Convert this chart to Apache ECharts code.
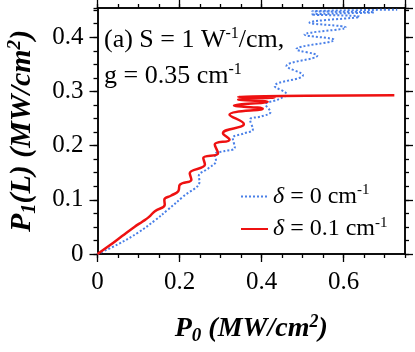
<!DOCTYPE html>
<html>
<head>
<meta charset="utf-8">
<script src="https://cdn.jsdelivr.net/npm/echarts@6/dist/echarts.min.js"></script>
<style>
  html, body { margin: 0; padding: 0; background: #fff; }
  #main { width: 415px; height: 352px; }
</style>
</head>
<body>
<div id="main"></div>
<script>
// delta = 0 cm^-1 (blue dotted)
var p0Blue = [0, 0.05, 0.10, 0.14, 0.172, 0.209, 0.249, 0.247, 0.27, 0.289, 0.286, 0.31, 0.335, 0.330, 0.355, 0.379,
  0.372, 0.40, 0.422, 0.410, 0.44, 0.461, 0.432, 0.501, 0.461, 0.536, 0.485, 0.577, 0.505, 0.606, 0.517, 0.639,
  0.522, 0.675, 0.524, 0.731];
var p1Blue = [0, 0.018, 0.040, 0.062, 0.082, 0.106, 0.134, 0.144, 0.158, 0.172, 0.184, 0.19, 0.196, 0.214, 0.222, 0.230,
  0.248, 0.254, 0.262, 0.276, 0.285, 0.295, 0.310, 0.330, 0.347, 0.366, 0.378, 0.395, 0.405, 0.418, 0.427, 0.438,
  0.442, 0.446, 0.448, 0.451];
// delta = 0.1 cm^-1 (red)
var p0Red = [0, 0.03, 0.06, 0.09, 0.11, 0.125, 0.14, 0.164, 0.163, 0.18, 0.197, 0.201, 0.229, 0.225, 0.262, 0.258,
  0.294, 0.286, 0.322, 0.306, 0.357, 0.322, 0.403, 0.333, 0.415, 0.343, 0.432, 0.343, 0.45, 0.724];
var p1Red = [0, 0.016, 0.033, 0.050, 0.060, 0.068, 0.079, 0.091, 0.100, 0.108, 0.116, 0.128, 0.137, 0.149, 0.165, 0.177,
  0.186, 0.202, 0.211, 0.223, 0.240, 0.257, 0.268, 0.274, 0.281, 0.285, 0.289, 0.290, 0.2915, 0.293];

var xMax = 0.75, yMax = 0.454;
var FONT = '"Liberation Serif", "Times New Roman", serif';

function zip(a, b) {
  var out = [];
  for (var i = 0; i < a.length; i++) out.push([a[i], b[i]]);
  return out;
}

// helper for the box axes: major ticks (with labels) and minor ticks
function axis(pos, max, interval, tickLen, labels) {
  return {
    type: 'value', position: pos, min: 0, max: max, interval: interval,
    axisLine: { show: true, onZero: false, lineStyle: { color: '#000', width: 1.5 } },
    axisTick: { show: true, inside: false, length: tickLen, lineStyle: { color: '#000', width: 1.3 } },
    axisLabel: {
      show: labels, showMaxLabel: false, margin: 12,
      fontFamily: FONT, fontSize: 25, color: '#000',
      formatter: function (v) { return v === 0 ? '0' : v.toFixed(1); }
    },
    splitLine: { show: false }
  };
}

function nameRich(size) {
  return {
    b: { fontFamily: FONT, fontSize: size, fontWeight: 'bold', fontStyle: 'italic', color: '#000' },
    sub: { fontFamily: FONT, fontSize: size * 0.68, fontWeight: 'bold', fontStyle: 'italic', color: '#000', padding: [15, 0, 0, 0] },
    sup: { fontFamily: FONT, fontSize: size * 0.64, fontWeight: 'bold', fontStyle: 'italic', color: '#000', padding: [0, 0, 14, 0] }
  };
}

var chart = echarts.init(document.getElementById('main'));

var xName = '{b|P}{sub|0}{b| (MW/cm}{sup|2}{b|)}';
var yName = '{b|P}{sub|1}{b|(L) (MW/cm}{sup|2}{b|)}';

var xMajor = axis('bottom', xMax, 0.2, 8, true);
xMajor.axisLabel.margin = 16;
xMajor.name = xName;
xMajor.nameLocation = 'middle';
xMajor.nameGap = 58;
xMajor.nameTextStyle = { rich: nameRich(28) };

var yMajor = axis('left', yMax, 0.1, 8, true);
yMajor.axisLabel.margin = 14;
yMajor.name = yName;
yMajor.nameLocation = 'middle';
yMajor.nameGap = 58;
yMajor.nameRotate = 90;
yMajor.nameTextStyle = { rich: nameRich(30) };

var option = {
  animation: false,
  backgroundColor: '#fff',
  grid: { left: 97.5, right: 10, top: 8, bottom: 98, outerBoundsMode: 'none', containLabel: false },
  xAxis: [
    xMajor,
    axis('bottom', xMax, 0.05, 4, false),
    axis('top', xMax, 0.2, 8, false),
    axis('top', xMax, 0.05, 4, false)
  ],
  yAxis: [
    yMajor,
    axis('left', yMax, 0.025, 4, false),
    axis('right', yMax, 0.1, 8, false),
    axis('right', yMax, 0.025, 4, false)
  ],
  legend: {
    orient: 'vertical',
    left: 235, top: 178,
    itemWidth: 27, itemHeight: 14, itemGap: 7,
    itemStyle: { color: 'rgba(0,0,0,0)', borderWidth: 0 },
    textStyle: {
      fontFamily: FONT, fontSize: 24, color: '#000',
      rich: {
        i: { fontFamily: FONT, fontSize: 24, fontStyle: 'italic', color: '#000' },
        t: { fontFamily: FONT, fontSize: 24, color: '#000' },
        s: { fontFamily: FONT, fontSize: 15, color: '#000', padding: [0, 0, 12, 0] }
      }
    },
    formatter: function (name) {
      return name === 'd0' ? '{i|δ}{t| = 0 cm}{s|-1}' : '{i|δ}{t| = 0.1 cm}{s|-1}';
    },
    data: ['d0', 'd1']
  },
  graphic: [
    {
      type: 'text', left: 104, top: 26,
      style: {
        text: '{t|(a) S = 1 W}{s|-1}{t|/cm,}',
        rich: {
          t: { fontFamily: FONT, fontSize: 26, fill: '#000' },
          s: { fontFamily: FONT, fontSize: 16, fill: '#000', padding: [0, 0, 13, 0] }
        }
      }
    },
    {
      type: 'text', left: 104, top: 62,
      style: {
        text: '{t|g = 0.35 cm}{s|-1}',
        rich: {
          t: { fontFamily: FONT, fontSize: 26, fill: '#000' },
          s: { fontFamily: FONT, fontSize: 16, fill: '#000', padding: [0, 0, 13, 0] }
        }
      }
    }
  ],
  series: [
    {
      name: 'd0', type: 'line', xAxisIndex: 0, yAxisIndex: 0,
      data: zip(p0Blue, p1Blue), showSymbol: false, symbol: 'none', smooth: 0.4,
      lineStyle: { type: 'dotted', width: 2, color: '#4a80e8' },
      itemStyle: { color: '#4a80e8' }
    },
    {
      name: 'd1', type: 'line', xAxisIndex: 0, yAxisIndex: 0,
      data: zip(p0Red, p1Red), showSymbol: false, symbol: 'none', smooth: 0.45,
      lineStyle: { width: 2.5, color: '#ee1111' },
      itemStyle: { color: '#ee1111' }
    }
  ]
};

chart.setOption(option);
</script>
</body>
</html>
